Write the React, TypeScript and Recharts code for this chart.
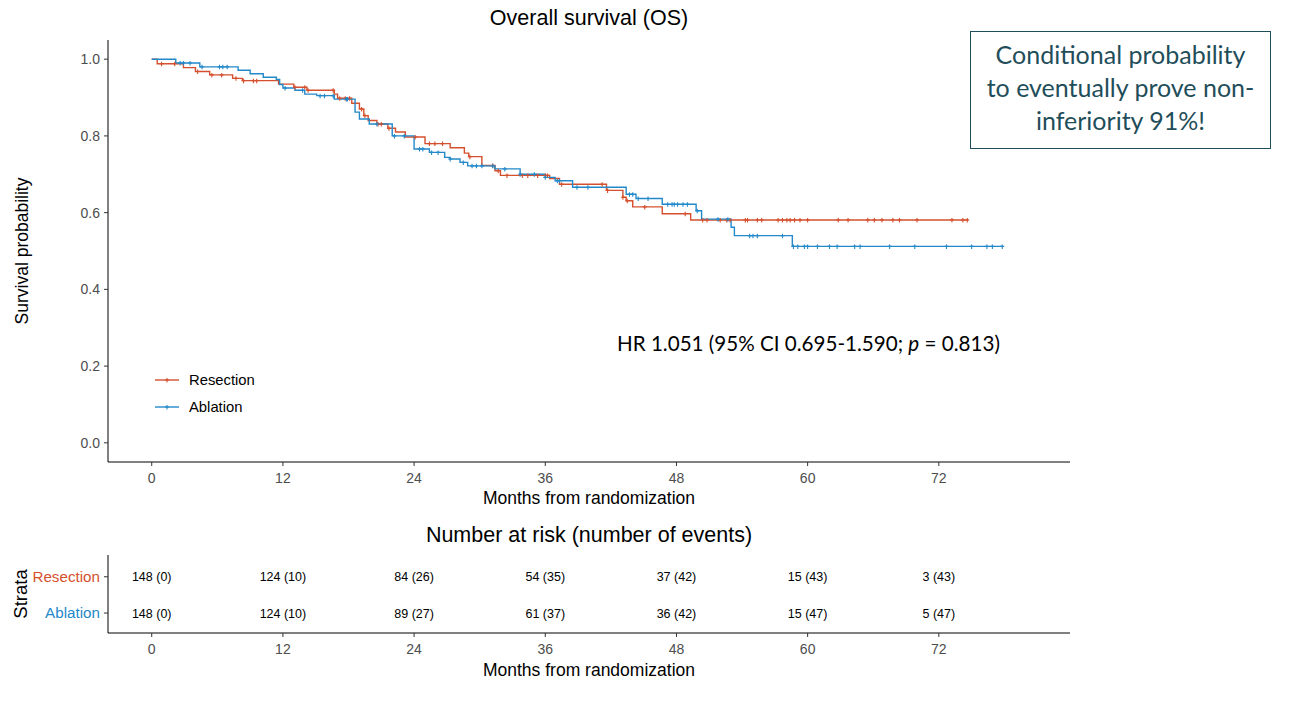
import React from 'react'
import { ComposedChart, Line, Scatter, XAxis, YAxis } from 'recharts'

const RED = '#D5502E'
const BLUE = '#2389C9'
const TEAL = '#1F4E5A'
const FONT = '"Liberation Sans", Arial, sans-serif'

// Kaplan-Meier steps, [month, survival]
const resectionSteps: [number, number][] = [
  [0, 1.0], [0.5, 0.988], [2.9, 0.978], [4.0, 0.968], [5.3, 0.959], [7.4, 0.95],
  [8.3, 0.944], [11.6, 0.935], [13.0, 0.927], [14.2, 0.919], [16.7, 0.909], [17.0, 0.898],
  [18.3, 0.885], [19.0, 0.87], [19.4, 0.853], [19.8, 0.84], [20.6, 0.831], [21.6, 0.82],
  [22.3, 0.81], [23.2, 0.797], [25.0, 0.78], [27.3, 0.769], [28.6, 0.755], [29.0, 0.746],
  [30.2, 0.723], [31.4, 0.709], [31.9, 0.697], [36.4, 0.689], [37.3, 0.674], [41.6, 0.658],
  [43.1, 0.64], [43.4, 0.631], [44.0, 0.615], [46.7, 0.597], [49.3, 0.581], [74.7, 0.581],
]

const ablationSteps: [number, number][] = [
  [0, 1.0], [2.2, 0.99], [4.4, 0.98], [7.9, 0.971], [9.0, 0.962], [10.2, 0.953],
  [11.4, 0.947], [11.7, 0.934], [12.0, 0.925], [13.1, 0.919], [14.0, 0.909], [15.1, 0.905],
  [16.7, 0.896], [18.6, 0.862], [19.0, 0.844], [19.9, 0.831], [22.0, 0.8], [24.0, 0.766],
  [25.4, 0.757], [26.8, 0.744], [27.3, 0.74], [28.2, 0.731], [28.9, 0.722], [31.4, 0.714],
  [33.7, 0.7], [36.0, 0.692], [36.9, 0.683], [38.5, 0.666], [43.4, 0.648], [44.3, 0.637],
  [46.7, 0.622], [49.8, 0.605], [50.3, 0.583], [53.0, 0.562], [53.3, 0.54], [58.6, 0.512],
  [77.8, 0.512],
]

// censoring times (months)
const resectionCensor = [
  0.9, 2.1, 4.2, 5.5, 6.4, 7.7, 8.4, 9.3, 9.6, 13.1, 14.0, 14.3, 16.6, 17.2, 17.7, 18.1,
  19.2, 19.5, 20.7, 21.0, 21.7, 24.1, 25.4, 25.9, 26.6, 29.1, 31.2, 31.7, 32.5, 33.9, 34.4,
  35.3, 36.0, 36.2, 37.5, 41.2, 41.7, 43.1, 43.5, 45.1, 48.8, 50.4, 50.8, 52.0, 52.6, 52.9,
  54.3, 54.5, 55.4, 55.8, 57.3, 57.7, 58.1, 58.4, 58.8, 59.3, 60.0, 62.8, 63.7, 65.5, 66.1,
  66.8, 67.8, 68.4, 70.0, 73.2, 74.2, 74.6,
]

const ablationCensor = [
  2.6, 2.9, 3.5, 4.6, 6.2, 6.5, 6.9, 12.2, 13.8, 15.4, 15.8, 16.6, 17.8, 17.9, 20.6, 22.2,
  23.1, 24.5, 24.8, 25.6, 26.2, 27.3, 28.5, 29.3, 29.7, 30.2, 31.2, 32.3, 33.7, 35.0, 36.0,
  37.1, 37.3, 38.9, 39.9, 43.7, 44.0, 44.5, 45.4, 47.2, 47.6, 47.8, 48.1, 48.6, 49.0, 49.9,
  51.8, 52.7, 54.7, 55.0, 55.4, 57.7, 58.7, 59.1, 59.7, 60.0, 60.9, 62.0, 62.7, 64.3, 64.8,
  67.5, 69.8, 72.7, 75.0, 76.4, 76.9, 77.8,
]

const monthTicks = [0, 12, 24, 36, 48, 60, 72]
const survTicks = [0, 0.2, 0.4, 0.6, 0.8, 1.0]

const riskTimes = [0, 12, 24, 36, 48, 60, 72]
const resectionRisk = ['148 (0)', '124 (10)', '84 (26)', '54 (35)', '37 (42)', '15 (43)', '3 (43)']
const ablationRisk = ['148 (0)', '124 (10)', '89 (27)', '61 (37)', '36 (42)', '15 (47)', '5 (47)']

const toPoints = (steps: [number, number][]) => steps.map(([t, s]) => ({ t, s }))

const survAt = (steps: [number, number][], t: number) => {
  let s = steps[0][1]
  for (const [st, sv] of steps) if (st <= t) s = sv
  return s
}

const censorPoints = (times: number[], steps: [number, number][]) =>
  times.map((t) => ({ t, s: survAt(steps, t) }))

const CensorMark = (color: string) => (props: any) => {
  const { cx, cy } = props
  return <path d={`M${cx - 2},${cy}h4M${cx},${cy - 2}v4.5`} stroke={color} strokeWidth={1.1} fill="none" />
}

const riskRows = (labels: string[], row: number) => riskTimes.map((t, i) => ({ t, s: row, label: labels[i] }))

const RiskText = (props: any) => (
  <text x={props.cx} y={props.cy} dy={4.5} textAnchor="middle" fontSize={12.5} fontFamily={FONT} fill="#000">
    {props.payload.label}
  </text>
)

const StrataTick = (props: any) => {
  const { x, y, payload } = props
  const isRes = payload.value === 2
  return (
    <text x={x} y={y} dy={5} textAnchor="end" fontSize={15.2} fontFamily={FONT} fill={isRes ? RED : BLUE}>
      {isRes ? 'Resection' : 'Ablation'}
    </text>
  )
}

const tickStyle = { fill: '#4D4D4D', fontSize: 14, fontFamily: FONT }
const axisLine = { stroke: '#000', strokeWidth: 1 }
const tickLine = { stroke: '#333', strokeWidth: 1 }

const legend = [
  { name: 'Resection', color: RED, top: 371 },
  { name: 'Ablation', color: BLUE, top: 398 },
]

export default function App() {
  return (
    <div style={{ position: 'absolute', left: 0, top: 0, width: 1301, height: 705, background: '#fff', fontFamily: FONT }}>
      <div style={{ position: 'absolute', left: 108, top: 6, width: 962, textAlign: 'center', fontSize: 21.5 }}>
        Overall survival (OS)
      </div>

      <div style={{ position: 'absolute', left: 0, top: 0 }}>
        <ComposedChart width={1100} height={520} margin={{ top: 40, right: 30, bottom: 8, left: 10 }}>
          <XAxis
            type="number"
            dataKey="t"
            domain={[-4, 84]}
            allowDataOverflow
            ticks={monthTicks}
            height={50}
            tick={tickStyle}
            tickSize={4}
            tickMargin={7}
            axisLine={axisLine}
            tickLine={tickLine}
            label={{ value: 'Months from randomization', position: 'insideBottom', offset: 8, fontSize: 17.5, fill: '#000', fontFamily: FONT }}
          />
          <YAxis
            type="number"
            dataKey="s"
            domain={[-0.05, 1.05]}
            allowDataOverflow
            ticks={survTicks}
            tickFormatter={(v: number) => v.toFixed(1)}
            width={98}
            tick={tickStyle}
            tickSize={4}
            tickMargin={4}
            axisLine={axisLine}
            tickLine={tickLine}
            label={{ value: 'Survival probability', angle: -90, position: 'insideLeft', offset: 12, fontSize: 17.5, fill: '#000', fontFamily: FONT, style: { textAnchor: 'middle' } }}
          />
          <Line data={toPoints(resectionSteps)} dataKey="s" type="stepAfter" stroke={RED} strokeWidth={1.4} dot={false} isAnimationActive={false} />
          <Line data={toPoints(ablationSteps)} dataKey="s" type="stepAfter" stroke={BLUE} strokeWidth={1.4} dot={false} isAnimationActive={false} />
          <Scatter data={censorPoints(resectionCensor, resectionSteps)} dataKey="s" shape={CensorMark(RED)} isAnimationActive={false} />
          <Scatter data={censorPoints(ablationCensor, ablationSteps)} dataKey="s" shape={CensorMark(BLUE)} isAnimationActive={false} />
        </ComposedChart>
      </div>

      {legend.map((l) => (
        <div key={l.name} style={{ position: 'absolute', left: 153, top: l.top, display: 'flex', alignItems: 'center', fontSize: 14.8, color: '#000' }}>
          <svg width={28} height={18}>
            <line x1={2} y1={9} x2={26} y2={9} stroke={l.color} strokeWidth={1.4} />
            <path d="M12,9h4M14,7v4.5" stroke={l.color} strokeWidth={1.1} />
          </svg>
          <span style={{ marginLeft: 8 }}>{l.name}</span>
        </div>
      ))}

      <div style={{ position: 'absolute', left: 617, top: 331, fontSize: 20.6, fontFamily: 'Lato, "Open Sans", sans-serif', color: '#000', whiteSpace: 'nowrap' }}>
        HR 1.051 (95% CI 0.695-1.590; <i>p</i> = 0.813)
      </div>

      <div
        style={{
          position: 'absolute', left: 970, top: 31, width: 299, height: 110, border: `1.5px solid ${TEAL}`,
          color: TEAL, fontSize: 25, fontFamily: 'Lato, "Open Sans", sans-serif', textAlign: 'center',
          lineHeight: '33px', paddingTop: 6, boxSizing: 'content-box', whiteSpace: 'nowrap',
        }}
      >
        Conditional probability
        <br />
        to eventually prove non-
        <br />
        inferiority 91%!
      </div>

      <div style={{ position: 'absolute', left: 108, top: 523, width: 962, textAlign: 'center', fontSize: 21.5 }}>
        Number at risk (number of events)
      </div>

      <div style={{ position: 'absolute', left: 0, top: 520 }}>
        <ComposedChart width={1100} height={185} margin={{ top: 35, right: 30, bottom: 22, left: 8 }}>
          <XAxis
            type="number"
            dataKey="t"
            domain={[-4, 84]}
            allowDataOverflow
            ticks={monthTicks}
            height={50}
            tick={tickStyle}
            tickSize={4}
            tickMargin={7}
            axisLine={axisLine}
            tickLine={tickLine}
            label={{ value: 'Months from randomization', position: 'insideBottom', offset: 7, fontSize: 17.5, fill: '#000', fontFamily: FONT }}
          />
          <YAxis
            type="number"
            dataKey="s"
            domain={[0.45, 2.6]}
            allowDataOverflow
            ticks={[1, 2]}
            width={100}
            tick={<StrataTick />}
            tickSize={4}
            tickMargin={4}
            axisLine={axisLine}
            tickLine={tickLine}
            label={{ value: 'Strata', angle: -90, position: 'insideLeft', offset: 12, fontSize: 18.5, fill: '#000', fontFamily: FONT, style: { textAnchor: 'middle' } }}
          />
          <Scatter data={riskRows(resectionRisk, 2)} dataKey="s" shape={RiskText} isAnimationActive={false} />
          <Scatter data={riskRows(ablationRisk, 1)} dataKey="s" shape={RiskText} isAnimationActive={false} />
        </ComposedChart>
      </div>
    </div>
  )
}
